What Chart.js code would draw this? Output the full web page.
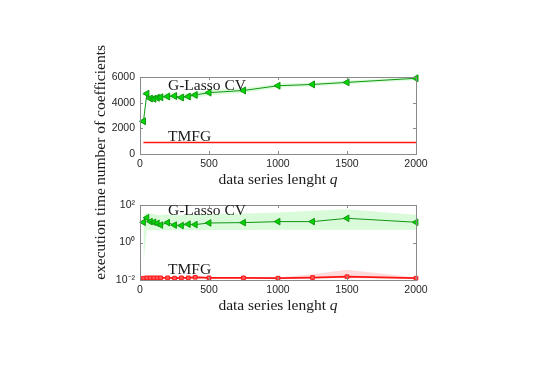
<!DOCTYPE html>
<html lang="en">
  <head>
    <meta charset="UTF-8" />
    <title>G-Lasso CV vs TMFG</title>
    <script src="https://cdn.jsdelivr.net/npm/chart.js"></script>
    <style>
      body { margin: 0; background: #fff; }
      .wrap { position: relative; width: 540px; height: 382px; }
      canvas { position: absolute; left: 0; top: 0; }
    </style>
    <script>
      // data series length q
      const qLen = [25, 50, 75, 100, 125, 150, 200, 250, 300, 350, 400, 500, 750, 1000, 1250, 1500, 2000];

      // number of coefficients
      const gLassoCoef = [2550, 4700, 4320, 4300, 4380, 4420, 4480, 4520, 4400, 4480, 4600, 4780, 4950, 5320, 5420, 5580, 5900];
      const gLassoCoefLo = [2300, 4400, 4050, 4030, 4100, 4150, 4200, 4250, 4130, 4220, 4360, 4580, 4780, 5170, 5280, 5440, 5770];
      const gLassoCoefHi = [2800, 4950, 4600, 4570, 4650, 4700, 4750, 4790, 4670, 4740, 4840, 4980, 5120, 5470, 5560, 5720, 6000];
      const tmfgCoef = [894, 894, 894, 894, 894, 894, 894, 894, 894, 894, 894, 894, 894, 894, 894, 894, 894];

      // execution time
      const gLassoTime = [12, 21, 13, 12, 10.5, 8.5, 11.5, 8.5, 8, 9.5, 9, 11, 11.5, 13, 13, 19.5, 12];
      const gLassoTimeLo = [0.08, 5, 4.5, 4.5, 4.5, 4.5, 4.5, 4.5, 4.5, 4.5, 4.5, 4.6, 4.7, 4.8, 4.8, 4.8, 4.8];
      const gLassoTimeHi = [30, 40, 35, 33, 30, 28, 32, 28, 28, 30, 30, 33, 35, 40, 50, 60, 30];
      const tmfgTime = [0.0125, 0.013, 0.013, 0.013, 0.013, 0.013, 0.013, 0.0125, 0.013, 0.013, 0.014, 0.013, 0.013, 0.0125, 0.0135, 0.015, 0.0125];
      const tmfgTimeLo = [0.0115, 0.012, 0.012, 0.012, 0.012, 0.012, 0.012, 0.0115, 0.012, 0.012, 0.013, 0.012, 0.012, 0.0115, 0.0122, 0.0125, 0.0115];
      const tmfgTimeHi = [0.0135, 0.014, 0.014, 0.014, 0.014, 0.014, 0.014, 0.0135, 0.014, 0.014, 0.015, 0.014, 0.014, 0.0135, 0.02, 0.035, 0.0135];

      const xTicks = [0, 500, 1000, 1500, 2000];
      const coefTicks = [0, 2000, 4000, 6000];
      const timeTicks = [0.01, 1, 100];
      const timeTickLabels = ["10\u207B\u00B2", "10\u2070", "10\u00B2"];

      const SERIF = "'Liberation Serif', 'Times New Roman', serif";
      const SANS = "'Liberation Sans', Arial, sans-serif";
      const GREEN_LINE = "rgb(20, 150, 20)";
      const GREEN_FILL = "rgb(0, 215, 0)";
      const GREEN_BAND = "rgba(210, 250, 210, 0.85)";
      const RED_LINE = "rgb(255, 20, 20)";
      const RED_FILL = "rgb(255, 90, 90)";
      const RED_BAND = "rgba(255, 210, 210, 0.8)";

      const toPoints = (ys) => qLen.map((q, i) => ({ x: q, y: ys[i] }));

      function bandSets(hi, lo, color) {
        return [
          { data: toPoints(hi), fill: "+1", backgroundColor: color, borderWidth: 0, pointRadius: 0 },
          { data: toPoints(lo), fill: false, borderWidth: 0, pointRadius: 0 },
        ];
      }

      // box, inner ticks, axis titles and in-plot labels, MATLAB style
      const axesDecor = {
        id: "axesDecor",
        afterDraw(chart) {
          const { ctx, chartArea: a, scales } = chart;
          const opts = chart.options.plugins.axesDecor;
          const x = scales.x, y = scales.y;
          ctx.save();
          ctx.strokeStyle = "#8a8a8a";
          ctx.lineWidth = 1;
          ctx.strokeRect(Math.round(a.left) + 0.5, Math.round(a.top) + 0.5,
            Math.round(a.right - a.left), Math.round(a.bottom - a.top));
          ctx.beginPath();
          x.ticks.forEach((t) => {
            const px = Math.round(x.getPixelForValue(t.value)) + 0.5;
            ctx.moveTo(px, a.bottom); ctx.lineTo(px, a.bottom - 3);
            ctx.moveTo(px, a.top); ctx.lineTo(px, a.top + 3);
          });
          y.ticks.forEach((t) => {
            const py = Math.round(y.getPixelForValue(t.value)) + 0.5;
            ctx.moveTo(a.left, py); ctx.lineTo(a.left + 3, py);
            ctx.moveTo(a.right, py); ctx.lineTo(a.right - 3, py);
          });
          ctx.stroke();

          ctx.fillStyle = "#1a1a1a";
          // x title with italic q
          const part1 = "data series lenght ";
          ctx.font = "15.5px " + SERIF;
          const w1 = ctx.measureText(part1).width;
          ctx.font = "italic 15.5px " + SERIF;
          const w2 = ctx.measureText("q").width;
          const cx = (a.left + a.right) / 2 - (w1 + w2) / 2;
          const by = a.bottom + 30;
          ctx.textBaseline = "alphabetic";
          ctx.textAlign = "left";
          ctx.font = "15.5px " + SERIF;
          ctx.fillText(part1, cx, by);
          ctx.font = "italic 15.5px " + SERIF;
          ctx.fillText("q", cx + w1, by);

          // y title
          ctx.font = "15.5px " + SERIF;
          ctx.save();
          ctx.translate(101, opts.yTitleCenter);
          ctx.rotate(-Math.PI / 2);
          ctx.textAlign = "center";
          ctx.textBaseline = "middle";
          ctx.fillText(opts.yTitle, 0, 0);
          ctx.restore();

          // series labels
          ctx.textAlign = "left";
          ctx.textBaseline = "alphabetic";
          opts.labels.forEach((l) => {
            ctx.fillText(l.text, x.getPixelForValue(l.x), y.getPixelForValue(l.y));
          });
          ctx.restore();
        },
      };

      function baseOptions(padTop, padBottom, yScale, decor) {
        return {
          responsive: false,
          animation: false,
          layout: { padding: { left: 92, right: 124, top: padTop, bottom: padBottom } },
          plugins: { legend: { display: false }, tooltip: { enabled: false }, axesDecor: decor },
          scales: {
            x: {
              type: "linear",
              min: 0,
              max: 2000,
              afterBuildTicks: (s) => { s.ticks = xTicks.map((v) => ({ value: v })); },
              afterFit: (s) => { s.height = 40; },
              grid: { display: false, drawTicks: false },
              border: { display: false },
              ticks: {
                padding: 4, color: "#262626", font: { family: SANS, size: 10.5 }, maxRotation: 0,
                callback: (v) => String(v),
              },
            },
            y: yScale,
          },
        };
      }

      function drawCoefChart() {
        const data = {
          datasets: [
            {
              data: toPoints(gLassoCoef), borderColor: GREEN_LINE, borderWidth: 1,
              pointStyle: "triangle", rotation: -90, pointRadius: 4,
              pointBackgroundColor: GREEN_FILL, pointBorderColor: GREEN_LINE, pointBorderWidth: 1,
              fill: false, clip: false,
            },
            { data: toPoints(tmfgCoef), borderColor: RED_LINE, borderWidth: 1.5, pointRadius: 0, fill: false },
            ...bandSets(gLassoCoefHi, gLassoCoefLo, GREEN_BAND),
          ],
        };
        const yScale = {
          type: "linear",
          min: 0,
          max: 6000,
          afterBuildTicks: (s) => { s.ticks = coefTicks.map((v) => ({ value: v })); },
          afterFit: (s) => { s.width = 48; },
          grid: { display: false, drawTicks: false },
          border: { display: false },
          ticks: {
            padding: 5, color: "#262626", font: { family: SANS, size: 10.5 },
            callback: (v) => String(v),
          },
        };
        const decor = {
          yTitle: "number of coefficients",
          yTitleCenter: 115,
          labels: [
            { text: "G-Lasso CV", x: 203, y: 5010 },
            { text: "TMFG", x: 203, y: 1000 },
          ],
        };
        new Chart(document.getElementById("coef-chart"), {
          type: "line",
          data: data,
          options: baseOptions(77, 188, yScale, decor),
          plugins: [axesDecor],
        });
      }

      function drawTimeChart() {
        const data = {
          datasets: [
            {
              data: toPoints(gLassoTime), borderColor: GREEN_LINE, borderWidth: 1,
              pointStyle: "triangle", rotation: -90, pointRadius: 3.8,
              pointBackgroundColor: GREEN_FILL, pointBorderColor: GREEN_LINE, pointBorderWidth: 1,
              fill: false, clip: false,
            },
            {
              data: toPoints(tmfgTime), borderColor: RED_LINE, borderWidth: 1.8,
              pointStyle: "rect", pointRadius: 2.6,
              pointBackgroundColor: RED_FILL, pointBorderColor: RED_LINE, pointBorderWidth: 1,
              fill: false, clip: false,
            },
            ...bandSets(gLassoTimeHi, gLassoTimeLo, GREEN_BAND),
            ...bandSets(tmfgTimeHi, tmfgTimeLo, RED_BAND),
          ],
        };
        const yScale = {
          type: "logarithmic",
          min: 0.01,
          max: 100,
          afterBuildTicks: (s) => { s.ticks = timeTicks.map((v) => ({ value: v })); },
          afterFit: (s) => { s.width = 48; },
          grid: { display: false, drawTicks: false },
          border: { display: false },
          ticks: {
            padding: 5, color: "#262626", font: { family: SANS, size: 10.5 },
            callback: (v) => timeTickLabels[timeTicks.indexOf(v)] ?? "",
          },
        };
        const decor = {
          yTitle: "execution time",
          yTitleCenter: 234,
          labels: [
            { text: "G-Lasso CV", x: 203, y: 29 },
            { text: "TMFG", x: 203, y: 0.021 },
          ],
        };
        new Chart(document.getElementById("time-chart"), {
          type: "line",
          data: data,
          options: baseOptions(205, 62, yScale, decor),
          plugins: [axesDecor],
        });
      }

      document.addEventListener("DOMContentLoaded", function () {
        drawCoefChart();
        drawTimeChart();
      });
    </script>
  </head>
  <body>
    <div class="wrap">
      <canvas id="coef-chart" width="540" height="382"></canvas>
      <canvas id="time-chart" width="540" height="382"></canvas>
    </div>
  </body>
</html>
